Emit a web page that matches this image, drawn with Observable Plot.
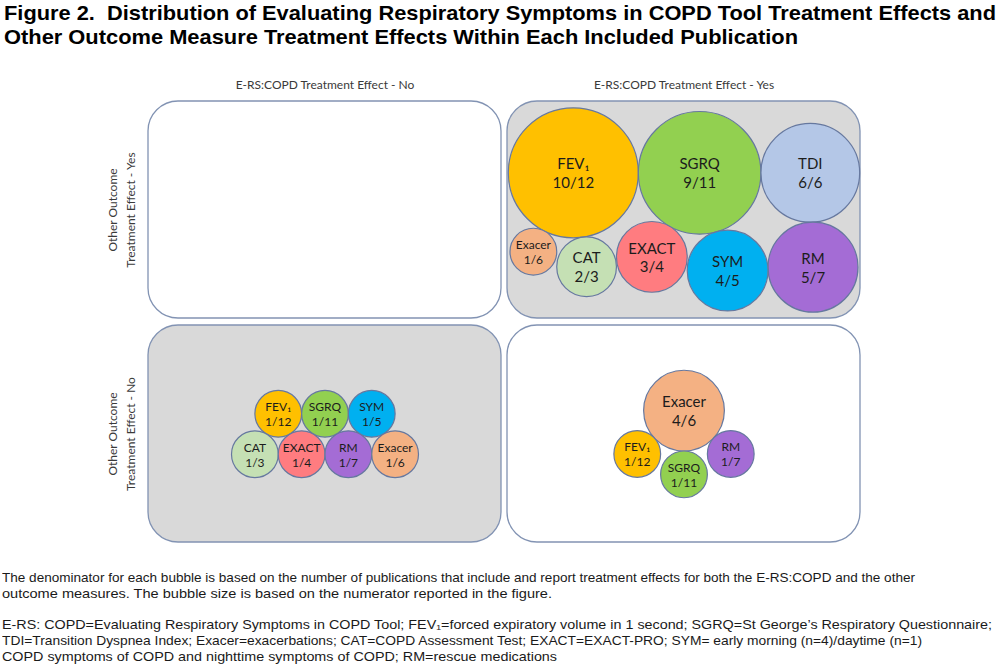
<!DOCTYPE html>
<html><head><meta charset="utf-8">
<script src="https://cdn.jsdelivr.net/npm/d3@7"></script>
<script src="https://cdn.jsdelivr.net/npm/@observablehq/plot@0.6"></script>
<style>
html,body{margin:0;padding:0;background:#fff;overflow:hidden;width:1000px;height:671px}
#title{font-family:"Liberation Sans",Arial,sans-serif;font-weight:bold;font-size:21px;line-height:24px;height:60px;box-sizing:border-box;padding:1px 0 0 4px;color:#000;white-space:nowrap}
.fit{display:inline-block;transform-origin:0 50%;white-space:pre}
#caption{font-family:"Liberation Sans",Arial,sans-serif;font-size:13px;line-height:16px;color:#1a1a1a;margin-top:18px;padding-left:2px;white-space:nowrap}
#caption p{margin:0 0 15px 0}
#chart svg{display:block}
</style></head><body>
<div id="title"><span class="fit" data-w="992">Figure 2.  Distribution of Evaluating Respiratory Symptoms in COPD Tool Treatment Effects and</span><br><span class="fit" data-w="794">Other Outcome Measure Treatment Effects Within Each Included Publication</span></div>
<div id="chart"></div>
<div id="caption"><p><span class="fit" data-w="913">The denominator for each bubble is based on the number of publications that include and report treatment effects for both the E-RS:COPD and the other</span><br><span class="fit" data-w="550">outcome measures. The bubble size is based on the numerator reported in the figure.</span></p><p><span class="fit" data-w="990">E-RS: COPD=Evaluating Respiratory Symptoms in COPD Tool; FEV₁=forced expiratory volume in 1 second; SGRQ=St George’s Respiratory Questionnaire;</span><br><span class="fit" data-w="920">TDI=Transition Dyspnea Index; Exacer=exacerbations; CAT=COPD Assessment Test; EXACT=EXACT-PRO; SYM= early morning (n=4)/daytime (n=1)</span><br><span class="fit" data-w="555">COPD symptoms of COPD and nighttime symptoms of COPD; RM=rescue medications</span></p></div>
<script>
// ---- data ----
const ersLevels = ["No", "Yes"];      // E-RS:COPD treatment effect (columns)
const otherLevels = ["Yes", "No"];    // other outcome treatment effect (rows)
const measureNames = ["FEV₁", "SGRQ", "TDI", "Exacer", "CAT", "EXACT", "SYM", "RM"];

// E-RS:COPD Yes / Other outcome Yes
const yesYesMeasures = ["FEV₁", "SGRQ", "TDI", "Exacer", "CAT", "EXACT", "SYM", "RM"];
const yesYesNumerators = [10, 9, 6, 1, 2, 3, 4, 5];
const yesYesDenominators = [12, 11, 6, 6, 3, 4, 5, 7];
const yesYesTier = [1, 1, 1, 2, 2, 2, 2, 2];

// E-RS:COPD No / Other outcome No
const noNoMeasures = ["FEV₁", "SGRQ", "SYM", "CAT", "EXACT", "RM", "Exacer"];
const noNoNumerators = [1, 1, 1, 1, 1, 1, 1];
const noNoDenominators = [12, 11, 5, 3, 4, 7, 6];
const noNoTier = [1, 1, 1, 2, 2, 2, 2];

// E-RS:COPD Yes / Other outcome No
const yesNoMeasures = ["Exacer", "FEV₁", "SGRQ", "RM"];
const yesNoNumerators = [4, 1, 1, 1];
const yesNoDenominators = [6, 12, 11, 7];
const yesNoTier = [1, 2, 2, 2];

// ---- geometry of the facet grid ----
const W = 1000, H = 492, mL = 148, mR = 140, mT = 41, mB = 10;
const padX = 6 / 359, padY = 7 / 224;
const bw = (W - mL - mR) / (2 - padX) * (1 - padX);
const bh = (H - mT - mB) / (2 - padY) * (1 - padY);
const rOpts = {type: "pow", exponent: 0.7, domain: [0, 10], range: [13, 65]};
let rad;
try { const s = Plot.scale({r: rOpts}); rad = v => s.apply(v); }
catch (e) { const s = d3.scalePow().exponent(0.7).domain([0, 10]).range([13, 65]); rad = v => s(v); }

function chain(row) {
  let x = 0;
  row.forEach((d, i) => { if (i) x += row[i - 1].r + d.r; d.x = x; });
  const left = row[0].x - row[0].r, right = row[row.length - 1].x + row[row.length - 1].r;
  const off = bw / 2 - (left + right) / 2;
  row.forEach(d => d.x += off);
}
function layout(names, nums, dens, tiers, ers, other) {
  const items = names.map((m, i) => ({measure: m, num: nums[i], den: dens[i], tier: tiers[i], ers, other, r: rad(nums[i])}));
  const t1 = items.filter(d => d.tier === 1), t2 = items.filter(d => d.tier === 2);
  chain(t1); if (t2.length) chain(t2);
  t1.forEach(d => d.y = 0);
  t2.forEach(d => {
    d.y = d3.max(t1, a => { const dx = d.x - a.x, s = a.r + d.r; return Math.abs(dx) < s ? Math.sqrt(s * s - dx * dx) : 0; });
  });
  const top = d3.min(items, d => d.y - d.r), bottom = d3.max(items, d => d.y + d.r);
  const shift = Math.max(2, (bh - (bottom - top)) / 2) - top;
  items.forEach(d => d.y += shift);
  return items;
}
const bubbles = [
  ...layout(yesYesMeasures, yesYesNumerators, yesYesDenominators, yesYesTier, "Yes", "Yes"),
  ...layout(noNoMeasures, noNoNumerators, noNoDenominators, noNoTier, "No", "No"),
  ...layout(yesNoMeasures, yesNoNumerators, yesNoDenominators, yesNoTier, "Yes", "No")
];
const quadrants = d3.cross(ersLevels, otherLevels).map(([ers, other]) => ({ers, other}));
const greyQ = quadrants.filter(q => q.ers === q.other);
const whiteQ = quadrants.filter(q => q.ers !== q.other);
const headerQ = quadrants.filter(q => q.other === otherLevels[0]);
const rowQ = quadrants.filter(q => q.ers === ersLevels[0]);

const chart = Plot.plot({
  width: W, height: H, marginTop: mT, marginBottom: mB, marginLeft: mL, marginRight: mR,
  style: {fontFamily: "Lato, 'Open Sans', sans-serif", fontSize: "12px", background: "#fff", overflow: "visible"},
  fx: {domain: ersLevels, axis: null, paddingInner: padX, paddingOuter: 0, round: false},
  fy: {domain: otherLevels, axis: null, paddingInner: padY, paddingOuter: 0, round: false},
  x: {domain: [0, bw], axis: null},
  y: {domain: [bh, 0], axis: null},
  r: rOpts,
  color: {domain: measureNames, range: ["#FFC000", "#92D050", "#B4C7E7", "#F4B183", "#C5E0B4", "#FF7C80", "#00B0F0", "#A46CD5"]},
  marks: [
    Plot.rect(greyQ, {fx: "ers", fy: "other", fill: "#d9d9d9", stroke: "#8293b3", strokeWidth: 1.3, rx: 30}),
    Plot.rect(whiteQ, {fx: "ers", fy: "other", fill: "#ffffff", stroke: "#8293b3", strokeWidth: 1.3, rx: 30}),
    Plot.dot(bubbles, {fx: "ers", fy: "other", x: "x", y: "y", r: "num", fill: "measure", stroke: "#66789f", strokeWidth: 1.2}),
    Plot.text(bubbles, {fx: "ers", fy: "other", x: "x", y: "y", text: d => `${d.measure}\n${d.num}/${d.den}`,
      fontSize: d => d.r > 28 ? 15 : 12, lineHeight: 1.25, fill: "#1c1c1c"}),
    Plot.text(headerQ, {fx: "ers", fy: "other", frameAnchor: "top", lineAnchor: "middle", dy: -16,
      text: d => "E-RS:COPD Treatment Effect - " + d.ers, fill: "#3a3a3a", fontSize: 12}),
    Plot.text(rowQ, {fx: "ers", fy: "other", frameAnchor: "left", textAnchor: "middle", lineAnchor: "middle", rotate: -90, dx: -28,
      text: d => "Other Outcome\nTreatment Effect - " + d.other, fill: "#3a3a3a", fontSize: 12, lineHeight: 1.5})
  ]
});
document.getElementById("chart").appendChild(chart);

function fitAll() {
  document.querySelectorAll(".fit").forEach(el => {
    el.style.transform = "none";
    const w = el.getBoundingClientRect().width;
    const t = +el.dataset.w;
    if (w > 0) el.style.transform = `scaleX(${t / w})`;
  });
}
fitAll();
if (document.fonts && document.fonts.ready) document.fonts.ready.then(fitAll);
</script>
</body></html>
